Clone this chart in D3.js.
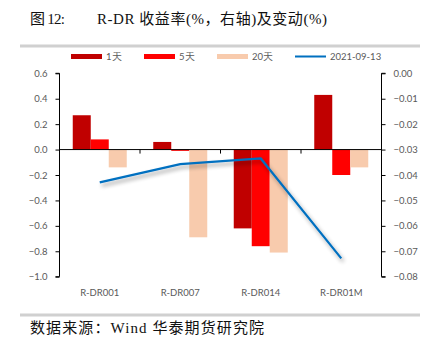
<!DOCTYPE html>
<html><head><meta charset="utf-8">
<script src="https://cdn.jsdelivr.net/npm/d3@7"></script>
<style>body{margin:0;background:#fff}svg{display:block}</style>
</head><body>
<svg id="c" width="432" height="341"></svg>
<script>
const categories = ["R-DR001","R-DR007","R-DR014","R-DR01M"];
const seriesNames = ["1天","5天","20天"];
const change1d = [0.27, 0.06, -0.62, 0.43];
const change5d = [0.08, -0.01, -0.76, -0.20];
const change20d = [-0.14, -0.69, -0.81, -0.14];
const lineName = "2021-09-13";
const lineValues = [-0.0429, -0.0357, -0.0335, -0.0728];
const leftTicks = [0.6,0.4,0.2,0.0,-0.2,-0.4,-0.6,-0.8,-1.0];
const rightTicks = [0,-0.01,-0.02,-0.03,-0.04,-0.05,-0.06,-0.07,-0.08];
const barColors = ["#C00000","#FF0000","#F8CBAD"];
const lineColor = "#0070C0";

const svg = d3.select("#c");
const defs = svg.append("defs");
const f = defs.append("filter").attr("id","sh").attr("x","-20%").attr("y","-20%").attr("width","140%").attr("height","160%");
f.append("feGaussianBlur").attr("in","SourceAlpha").attr("stdDeviation",2).attr("result","b");
f.append("feOffset").attr("in","b").attr("dx",2).attr("dy",3).attr("result","o");
f.append("feComponentTransfer").attr("in","o").attr("result","o2").append("feFuncA").attr("type","linear").attr("slope",0.4);
const fm = f.append("feMerge"); fm.append("feMergeNode").attr("in","o2"); fm.append("feMergeNode").attr("in","SourceGraphic");

// title
const tf = "'Liberation Serif','DejaVu Serif','Noto Sans CJK SC',serif";
svg.append("text").attr("x",30).attr("y",24).attr("font-family",tf).attr("font-size",15).attr("fill","#111")
  .attr("textLength",35).attr("lengthAdjust","spacing").text("图 12:");
svg.append("text").attr("x",97).attr("y",24).attr("font-family",tf).attr("font-size",15).attr("fill","#111")
  .attr("textLength",230).attr("lengthAdjust","spacing").text("R-DR 收益率(%，右轴)及变动(%)");
svg.append("rect").attr("x",20).attr("y",44.5).attr("width",400).attr("height",3).attr("fill","#D0D0D0");
svg.append("rect").attr("x",20).attr("y",313.5).attr("width",400).attr("height",3).attr("fill","#D0D0D0");
svg.append("text").attr("x",30).attr("y",333).attr("font-family",tf).attr("font-size",15).attr("fill","#111")
  .attr("textLength",234).attr("lengthAdjust","spacing").text("数据来源：Wind  华泰期货研究院");

const L = 59.5, R = 381.5, T = 73.3, B = 276.7;
const yL = d3.scaleLinear().domain([-1.0,0.6]).range([B,T]);
const yR = d3.scaleLinear().domain([-0.08,0]).range([B,T]);
const x = d3.scaleBand().domain(categories).range([L,R]);
const xs = d3.scaleBand().domain(seriesNames).range([0,54]);

const font = "Lato,'Open Sans',sans-serif";
const data = [change1d, change5d, change20d];

// bars
seriesNames.forEach((s,si)=>{
  svg.append("g").selectAll("rect").data(categories).join("rect")
    .attr("x",(c)=>x(c)+x.bandwidth()/2-27+xs(s))
    .attr("width",xs.bandwidth())
    .attr("y",(c,i)=>yL(Math.max(0,data[si][i])))
    .attr("height",(c,i)=>Math.abs(yL(data[si][i])-yL(0)))
    .attr("fill",barColors[si]);
});

// zero category axis
const gx = svg.append("g").attr("transform",`translate(0,${yL(0)})`);
gx.append("line").attr("x1",L).attr("x2",R).attr("stroke","#000").attr("stroke-width",1);
gx.selectAll("line.t").data(d3.range(1,4)).join("line").attr("class","t")
  .attr("x1",i=>L+i*x.step()).attr("x2",i=>L+i*x.step()).attr("y1",0).attr("y2",4).attr("stroke","#000");

// category labels
svg.append("g").selectAll("text").data(categories).join("text")
  .attr("x",c=>x(c)+x.bandwidth()/2).attr("y",296).attr("text-anchor","middle")
  .attr("font-family",font).attr("font-size",9.5).attr("fill","#595959").text(c=>c);

// left axis
const ga = svg.append("g").attr("transform",`translate(${L},0)`)
  .call(d3.axisLeft(yL).tickValues(leftTicks).tickFormat(d3.format(".1f")).tickSize(4).tickPadding(8));
ga.select(".domain").attr("stroke","#000").attr("d",`M-4,${T}H0V${B}H-4`);
ga.selectAll(".tick line").attr("stroke","#000");
ga.selectAll("text").attr("font-family",font).attr("font-size",9.5).attr("fill","#595959");

// right axis
const gr = svg.append("g").attr("transform",`translate(${R},0)`)
  .call(d3.axisRight(yR).tickValues(rightTicks).tickFormat(d3.format(".2f")).tickSize(4).tickPadding(8));
gr.select(".domain").attr("stroke","#000").attr("d",`M4,${T}H0V${B}H4`);
gr.selectAll(".tick line").attr("stroke","#000");
gr.selectAll("text").attr("font-family",font).attr("font-size",9.5).attr("fill","#595959");

// line
const line = d3.line().x((d,i)=>x(categories[i])+x.bandwidth()/2).y(d=>yR(d));
svg.append("path").datum(lineValues).attr("d",line).attr("fill","none")
  .attr("stroke",lineColor).attr("stroke-width",2.2).attr("filter","url(#sh)");

// legend
const leg = [{n:"1天",c:barColors[0],x:71},{n:"5天",c:barColors[1],x:144},{n:"20天",c:barColors[2],x:217},{n:lineName,c:lineColor,x:295,line:true}];
const lg = svg.append("g");
leg.forEach(d=>{
  if(d.line) lg.append("rect").attr("x",d.x).attr("y",55.5).attr("width",31).attr("height",2).attr("fill",d.c);
  else lg.append("rect").attr("x",d.x).attr("y",54).attr("width",31).attr("height",5).attr("fill",d.c);
  lg.append("text").attr("x",d.x+35).attr("y",60).attr("font-family",font).attr("font-size",9.5).attr("fill","#595959").text(d.n);
});
</script>
</body></html>
